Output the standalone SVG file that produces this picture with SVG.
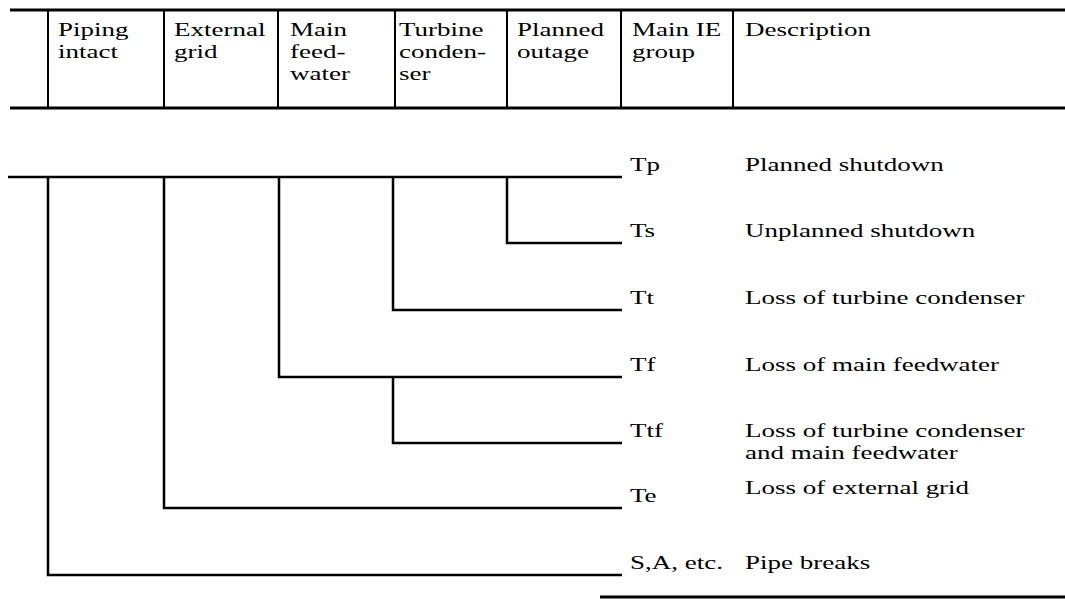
<svg xmlns="http://www.w3.org/2000/svg" width="1065" height="605" viewBox="0 0 1065 605">
<style>
.rule{stroke:#000;stroke-width:3;fill:none}
.sep{stroke:#000;stroke-width:2;fill:none}
.tree{stroke:#000;stroke-width:2.5;fill:none}
text{font-family:"Liberation Serif","Times New Roman",serif;font-size:18px;fill:#000}
</style>
<rect width="1065" height="605" fill="#fff"/>
<g id="header">
<line class="rule" x1="10" y1="10" x2="1065" y2="10"/>
<line class="rule" x1="10" y1="108" x2="1065" y2="108"/>
<line class="sep" x1="48" y1="10" x2="48" y2="108"/>
<line class="sep" x1="164" y1="10" x2="164" y2="108"/>
<line class="sep" x1="278" y1="10" x2="278" y2="108"/>
<line class="sep" x1="395" y1="10" x2="395" y2="108"/>
<line class="sep" x1="507" y1="10" x2="507" y2="108"/>
<line class="sep" x1="621" y1="10" x2="621" y2="108"/>
<line class="sep" x1="733" y1="10" x2="733" y2="108"/>
<g transform="scale(1.5 1)">
<text x="38.67" y="36">Piping</text><text x="38.67" y="58">intact</text>
<text x="116" y="36">External</text><text x="116" y="58">grid</text>
<text x="193.33" y="36">Main</text><text x="193.33" y="58">feed-</text><text x="193.33" y="80">water</text>
<text x="266" y="36">Turbine</text><text x="266" y="58">conden-</text><text x="266" y="80">ser</text>
<text x="344.67" y="36">Planned</text><text x="344.67" y="58">outage</text>
<text x="421.33" y="36">Main IE</text><text x="421.33" y="58">group</text>
<text x="496.67" y="36">Description</text>
</g>
</g>
<g id="connectors">
<path class="tree" d="M8,177 H622"/>
<path class="tree" d="M507,177 V243 H622"/>
<path class="tree" d="M393,177 V310 H622"/>
<path class="tree" d="M279,177 V377 H622"/>
<path class="tree" d="M393,377 V443 H622"/>
<path class="tree" d="M164,177 V508 H622"/>
<path class="tree" d="M48,177 V575 H622"/>
</g>
<g transform="scale(1.5 1)">
<g id="node-Tp"><text x="420" y="171">Tp</text><text x="496.67" y="171">Planned shutdown</text></g>
<g id="node-Ts"><text x="420" y="237">Ts</text><text x="496.67" y="237">Unplanned shutdown</text></g>
<g id="node-Tt"><text x="420" y="304">Tt</text><text x="496.67" y="304">Loss of turbine condenser</text></g>
<g id="node-Tf"><text x="420" y="371">Tf</text><text x="496.67" y="371">Loss of main feedwater</text></g>
<g id="node-Ttf"><text x="420" y="437">Ttf</text><text x="496.67" y="437">Loss of turbine condenser</text><text x="496.67" y="459">and main feedwater</text></g>
<g id="node-Te"><text x="420" y="502">Te</text><text x="496.67" y="494">Loss of external grid</text></g>
<g id="node-SA"><text x="420" y="569">S,A, etc.</text><text x="496.67" y="569">Pipe breaks</text></g>
</g>
<line class="rule" x1="600" y1="597" x2="1065" y2="597"/>
</svg>
